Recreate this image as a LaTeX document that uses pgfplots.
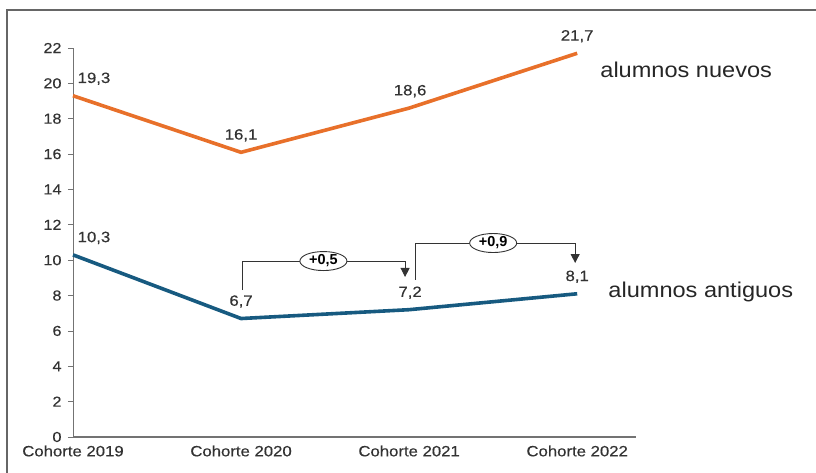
\documentclass[border=0pt]{standalone}
\usepackage{fontspec}
\setmainfont{Liberation Sans}
\newfontfamily\widefont[FakeStretch=1.1]{Liberation Sans}
\newfontfamily\numfont[FakeStretch=1.12, FakeBold=0.4]{Liberation Sans}
\usepackage{pgfplots}
\pgfplotsset{compat=1.18}
\usetikzlibrary{arrows.meta,shapes.geometric}

\definecolor{naranja}{HTML}{E8702A}
\definecolor{azul}{HTML}{175A80}
\definecolor{texto}{HTML}{333333}
\definecolor{marco}{HTML}{666666}

% dx: horizontal shift of each value label (bp)
\pgfplotstableread{
x nuevos antiguos dx
0 19.3 10.3 21
1 16.1 6.7 0
2 18.6 7.2 1
3 21.7 8.1 0
}\cohortes

\begin{document}
\begin{tikzpicture}[x=1bp,y=1bp]
\useasboundingbox (0,0) rectangle (816,473);
\draw[line width=1.6bp, color=marco] (7,-5) -- (7,463) -- (822,463);
\begin{axis}[
  at={(73bp,36bp)}, anchor=south west,
  scale only axis, width=563bp, height=389bp,
  xmin=0, xmax=3.35, ymin=0, ymax=22,
  axis x line*=bottom, axis y line*=left,
  x axis line style={draw=black!55, line width=2bp},
  y axis line style={draw=black!55, line width=1bp},
  xtick={0,1,2,3},
  xticklabels={Cohorte 2019, Cohorte 2020, Cohorte 2021, Cohorte 2022},
  xtick style={draw=none},
  ytick={0,2,...,22},
  ytick pos=left, tick align=outside,
  major tick length=5bp,
  ytick style={draw=black!55, line width=0.8bp},
  yticklabel style={font=\numfont\fontsize{14.5}{14.5}\selectfont, color=texto, xshift=-3bp},
  xticklabel style={font=\numfont\fontsize{15}{15}\selectfont, color=texto, yshift=0bp},
  /pgf/number format/assume math mode=true,
  clip=false,
  nodes near coords={\pgfmathprintnumber[fixed, fixed zerofill, precision=1, use comma, assume math mode=true]{\pgfplotspointmeta}},
  point meta=y,
  visualization depends on={\thisrow{dx} \as \dx},
  nodes near coords style={font=\numfont\fontsize{15}{15}\selectfont, color=texto,
    anchor=center, yshift=17bp, xshift=\dx bp},
]
\addplot[naranja, line width=3.6bp, line join=round] table[x=x, y=nuevos] {\cohortes};
\addplot[azul, line width=3.6bp, line join=round] table[x=x, y=antiguos] {\cohortes};

% series names
\node[anchor=west, inner sep=0, text=black!85, font=\widefont\fontsize{21.5}{21.5}\selectfont]
  at (axis cs:3.137,20.76) {alumnos nuevos};
\node[anchor=west, inner sep=0, text=black!85, font=\widefont\fontsize{21.5}{21.5}\selectfont]
  at (axis cs:3.185,8.2) {alumnos antiguos};

% change brackets
\draw[line width=0.9bp, color=texto, -{Triangle[width=9bp,length=9bp]}]
  (axis cs:1.006,8.3) -- (axis cs:1.006,9.95) -- (axis cs:1.976,9.95) -- (axis cs:1.976,9.05);
\node[ellipse, draw=texto, line width=0.9bp, fill=white, minimum width=47bp, minimum height=19bp, inner sep=0,
  font=\bfseries\fontsize{14.5}{14.5}\selectfont, text=black]
  at (axis cs:1.49,9.95) {+0,5};
\draw[line width=0.9bp, color=texto, -{Triangle[width=9bp,length=9bp]}]
  (axis cs:2.036,8.88) -- (axis cs:2.036,10.97) -- (axis cs:2.988,10.97) -- (axis cs:2.988,9.84);
\node[ellipse, draw=texto, line width=0.9bp, fill=white, minimum width=47bp, minimum height=19bp, inner sep=0,
  font=\bfseries\fontsize{14.5}{14.5}\selectfont, text=black]
  at (axis cs:2.50,10.97) {+0,9};
\end{axis}
\end{tikzpicture}
\end{document}
